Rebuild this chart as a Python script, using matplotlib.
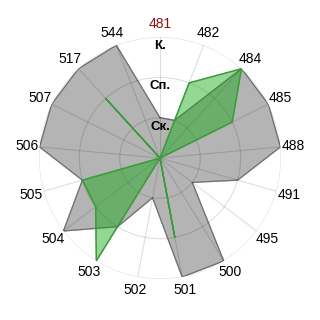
import numpy as np
import matplotlib
matplotlib.use("Agg")
import matplotlib.pyplot as plt

plt.rcParams['font.family'] = ['Liberation Sans', 'DejaVu Sans']

# категории по кругу (по часовой, начиная сверху)
cats = ['481', '482', '484', '485', '488', '491', '495', '500', '501',
        '502', '503', '504', '505', '506', '507', '517', '544']
gray_vals = [1, 1, 3, 3, 3, 2, 1, 3, 3, 1, 2, 3, 2, 3, 3, 3, 3]
green_vals = [0, 2, 3, 2, 0, 0, 0, 0, 2, 0, 3, 2, 2, 0, 0, 2, 0]
levels = [1, 2, 3]
level_labels = ['Ск.', 'Сп.', 'К.']

n = len(cats)
theta = np.arange(n) * 2 * np.pi / n
th = np.append(theta, theta[0])

fig = plt.figure(figsize=(3.2, 3.2), dpi=100)
ax = fig.add_axes([0.122, 0.128, 0.756, 0.756], polar=True)
ax.set_theta_zero_location('N')
ax.set_theta_direction(-1)
ax.set_ylim(0, 3)
ax.grid(False)
ax.spines['polar'].set_visible(False)

g = np.append(gray_vals, gray_vals[0])
ax.fill(th, g, color='#b4b4b4', zorder=1)
ax.plot(th, g, color='#707070', lw=0.9, zorder=2)

# сетка: полупрозрачная, светлая на белом и темнее на сером
circ = np.linspace(0, 2 * np.pi, 300)
for t in theta:
    ax.plot([t, t], [0, 3], color='black', alpha=0.13, lw=0.8, zorder=2)
for lv in levels:
    ax.plot(circ, [lv] * len(circ), color='black', alpha=0.13, lw=0.8, zorder=2)

gr = np.append(green_vals, green_vals[0])
ax.fill(th, gr, color='#14a814', alpha=0.45, zorder=3)
ax.plot(th, gr, color='#3c9c3c', lw=1.0, zorder=4)

ax.set_xticks([])
ax.set_yticks([])
for i, (t, c) in enumerate(zip(theta, cats)):
    ax.text(t, 3.32, c, ha='center', va='center', fontsize=10,
            color='#8b1010' if i == 0 else 'black')
for lv, lab in zip(levels, level_labels):
    ax.text(0, lv - 0.22, lab, ha='center', va='center', fontsize=9.5,
            fontweight='bold', zorder=5)

fig.savefig('out.png', dpi=100)
